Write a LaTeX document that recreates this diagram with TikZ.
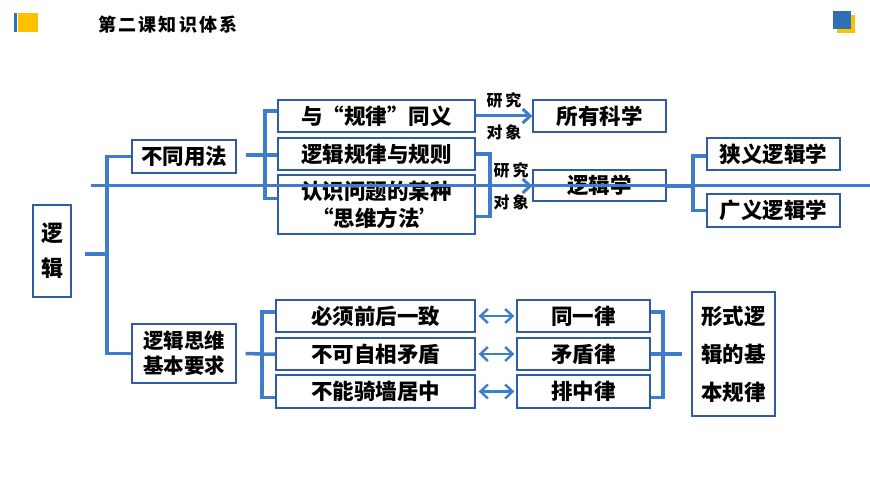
\documentclass[tikz,border=0pt]{standalone}
\usepackage{fontspec}
\setmainfont{Noto Sans CJK SC}
\usetikzlibrary{arrows.meta}

\definecolor{lineblue}{RGB}{62,124,204}
\definecolor{boxblue}{RGB}{47,92,164}
\definecolor{markblue}{RGB}{46,112,184}
\definecolor{markyellow}{RGB}{255,192,0}

\tikzset{
  box/.style={draw=boxblue,line width=1.3pt,fill=white,inner sep=0pt,
    align=center,font=\fontsize{21.5}{27}\selectfont\bfseries},
  link/.style={draw=lineblue,line width=3.5pt},
  dbl/.style={draw=lineblue,line width=2.4pt,<->,shorten <=3pt,shorten >=2pt},
  note/.style={font=\fontsize{16}{18}\selectfont\bfseries\addfontfeatures{LetterSpace=18},
    inner sep=1pt}
}

\begin{document}
\begin{tikzpicture}[x=1pt,y=-1pt,>={Straight Barb[length=7.5pt,width=14pt]}]
\useasboundingbox (0,0) rectangle (870,489);

% corner marks and title
\fill[markblue] (14,13) rectangle (17,32);
\fill[markyellow] (18,13) rectangle (38,32);
\fill[markyellow] (837,15) rectangle (855,33);
\fill[markblue] (833,11) rectangle (851,29);
\node[font=\fontsize{18}{20}\selectfont\bfseries] (title) at (168,25)
  {\addfontfeatures{LetterSpace=12}第二课知识体系};

% left part
\node[box,minimum width=38pt,minimum height=92pt,
  font=\fontsize{22}{35}\selectfont\bfseries] (logic) at (52,251) {逻\\辑};
\node[box,minimum width=104pt,minimum height=33pt] (usage) at (184,156.5) {不同用法};
\node[box,minimum width=104pt,minimum height=59pt,
  font=\fontsize{20.5}{25}\selectfont\bfseries] (req) at (184,353.5) {逻辑思维\\基本要求};

\coordinate (trunk) at (107,254);
\draw[link] ([xshift=13pt,yshift=-3pt]logic.east) -- (trunk);
\draw[link] (usage.west) -| (trunk) |- (req.west);

% upper branch
\node[box,minimum width=197pt,minimum height=32pt] (same) at (376.5,116) {与“规律”同义};
\node[box,minimum width=197pt,minimum height=32pt] (rule) at (376.5,154) {逻辑规律与规则};
\node[box,minimum width=197pt,minimum height=59pt] (method) at (376.5,204.5)
  {认识问题的某种\\“思维方法’};
\node[box,minimum width=133pt,minimum height=32pt] (science) at (599.5,116) {所有科学};
\node[box,minimum width=133pt,minimum height=31pt] (logicsci) at (599.5,185.5) {逻辑学};
\node[box,minimum width=133pt,minimum height=32pt] (narrow) at (773.5,154) {狭义逻辑学};
\node[box,minimum width=133pt,minimum height=33pt] (broad) at (773.5,210.5) {广义逻辑学};

\coordinate (fork1) at (265,155);
\draw[link] ([xshift=9pt,yshift=1.5pt]usage.east) -- (fork1) -- (rule.west |- fork1);
\draw[link] ([yshift=5pt]same.west) -| (fork1) |- ([yshift=6pt]method.west);

\draw[link,line width=3pt,->] (same.east) -- (science.west)
  node[note,midway,above=5pt] {研究} node[note,midway,below=6pt] {对象};

\coordinate (fork2) at (490,186);
\draw[link] (rule.east) -| (fork2) |- ([yshift=-12pt]method.east);
\draw[link,line width=3pt,->] (fork2) -- (logicsci.west |- fork2)
  node[note,midway,above=5pt] {研究} node[note,midway,below=6pt] {对象};

\coordinate (fork3) at (693,186);
\draw[link] (logicsci.east |- fork3) -- (fork3);
\draw[link] ([yshift=-2pt]narrow.west) -| (fork3) |- (broad.west);

% lower branch
\foreach \n/\y/\h/\a/\b in {1/316/32/必须前后一致/同一律,
    2/354/32/不可自相矛盾/矛盾律, 3/391.5/33/不能骑墙居中/排中律}{
  \node[box,minimum width=199pt,minimum height=\h pt] (cons\n) at (375.5,\y) {\a};
  \node[box,minimum width=133pt,minimum height=\h pt] (law\n) at (583.5,\y) {\b};
  \draw[dbl] (cons\n) -- (law\n);
}
\node[box,minimum width=83pt,minimum height=124pt,
  font=\fontsize{21.5}{38}\selectfont\bfseries] (basic) at (733.5,354) {形式逻\\辑的基\\本规律};

\coordinate (fork4) at (262,354);
\draw[link] ([xshift=9pt]req.east) -- (fork4) -- (cons2.west);
\draw[link] ([yshift=4pt]cons1.west) -| (fork4) |- ([yshift=-6pt]cons3.west);

\coordinate (fork5) at (663,354);
\draw[link] ([yshift=4pt]law1.east) -| (fork5) |- ([yshift=-6pt]law3.east);
\draw[link] (law2.east) -- ([xshift=-9pt]basic.west |- law2.east);

% long line across
\coordinate (crossL) at (91,186);
\coordinate (crossR) at (870,186);
\draw[link,line width=3pt] (crossL) -- (crossR);

\end{tikzpicture}
\end{document}
